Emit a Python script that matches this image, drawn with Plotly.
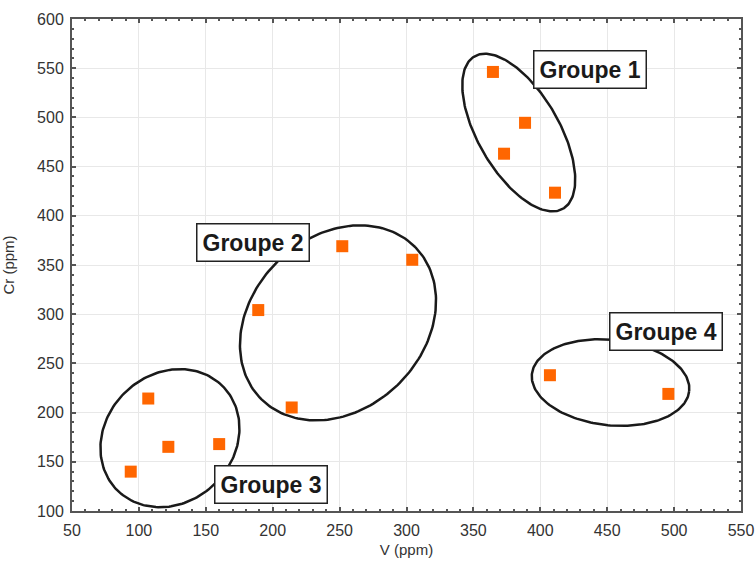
import numpy as np
import plotly.graph_objects as go

# Data (V ppm, Cr ppm)
v_values = [364.6, 388.6, 372.9, 411.0,
            252.0, 304.3, 189.2, 214.2,
            107.0, 122.0, 160.0, 93.9,
            407.2, 495.7]
cr_values = [546.2, 494.5, 463.1, 423.5,
             369.1, 355.3, 304.2, 205.2,
             214.3, 165.2, 168.0, 140.0,
             238.0, 219.0]

group_labels = ["Groupe 1", "Groupe 2", "Groupe 3", "Groupe 4"]
label_x = [437.1, 185.1, 199.0, 494.2]
label_y = [548.6, 372.8, 126.7, 282.9]

# Ellipse outlines: centre (data), semi-axes (px), screen rotation (deg)
ell_cx = [383.9, 248.8, 123.2, 452.5]
ell_cy = [484.6, 291.2, 174.0, 230.5]
ell_a = [88.1, 108.2, 74.1, 79.1]
ell_b = [40.5, 86.1, 64.1, 42.7]
ell_ang = [59.8, -44.3, -43.6, 6.2]

x_range = [50, 550]
y_range = [100, 600]

W, H = 756, 567
ML, MR, MT, MB = 72, 15, 19, 56
pw = W - ML - MR
ph = H - MT - MB
kx = pw / (x_range[1] - x_range[0])
ky = ph / (y_range[1] - y_range[0])

fig = go.Figure()

t = np.linspace(0, 2 * np.pi, 200)
for cx, cy, a, b, ang in zip(ell_cx, ell_cy, ell_a, ell_b, ell_ang):
    th = np.radians(ang)
    dx = a * np.cos(th) * np.cos(t) - b * np.sin(th) * np.sin(t)
    dy = a * np.sin(th) * np.cos(t) + b * np.cos(th) * np.sin(t)
    fig.add_trace(go.Scatter(x=cx + dx / kx, y=cy - dy / ky, mode="lines",
                             line=dict(color="#1a1a1a", width=2.5),
                             showlegend=False, hoverinfo="skip"))

fig.add_trace(go.Scatter(x=v_values, y=cr_values, mode="markers",
                         marker=dict(symbol="square", size=12, color="#FF6600",
                                     line=dict(width=0)),
                         showlegend=False))

for txt, lx, ly in zip(group_labels, label_x, label_y):
    fig.add_annotation(x=lx, y=ly, text="<b>" + txt + "</b>", showarrow=False,
                       font=dict(family="Liberation Sans, Arial", size=23, color="#1a1a1a"),
                       bgcolor="white", bordercolor="#222222", borderwidth=1.5,
                       borderpad=5, xanchor="center", yanchor="middle")

axis_common = dict(showgrid=True, gridcolor="#e8e8e8", gridwidth=1,
                   showline=True, linecolor="#555555", linewidth=2, mirror="ticks",
                   ticks="inside", ticklen=4, tickwidth=1.5, tickcolor="#555555",
                   zeroline=False, automargin=False,
                   tickfont=dict(family="Liberation Sans, Arial", size=16, color="#333333"),
                   minor=dict(ticks="inside", ticklen=2, tickcolor="#555555", showgrid=False))

fig.update_xaxes(range=x_range, dtick=50, tick0=50, minor_dtick=10,
                 ticklabelstandoff=4,
                 title=dict(text="V (ppm)", font=dict(family="Liberation Sans, Arial", size=15, color="#333333"),
                            standoff=6),
                 **axis_common)
fig.update_yaxes(range=y_range, dtick=50, tick0=100, minor_dtick=10,
                 ticklabelstandoff=3,
                 title=dict(text="Cr (ppm)", font=dict(family="Liberation Sans, Arial", size=15, color="#333333"),
                            standoff=22),
                 **axis_common)

fig.update_layout(width=W, height=H, margin=dict(l=ML, r=MR, t=MT, b=MB),
                  plot_bgcolor="white", paper_bgcolor="white")

fig.write_html("out.html", config={"displayModeBar": False},
               post_script="document.body.style.margin='0';document.body.style.overflow='hidden';")
